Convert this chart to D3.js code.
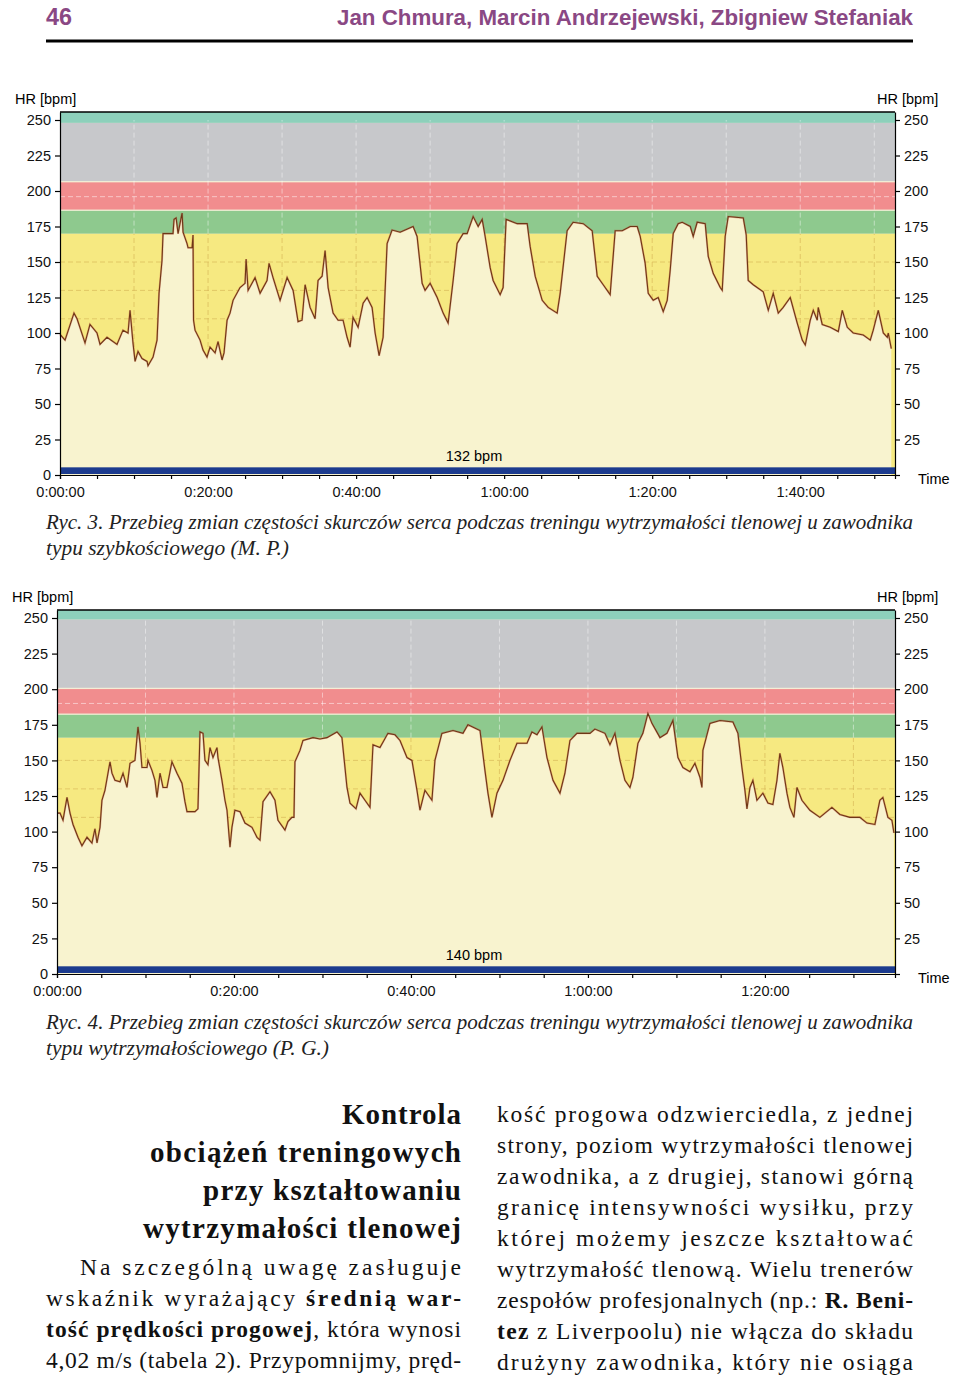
<!DOCTYPE html>
<html lang="pl">
<head>
<meta charset="utf-8">
<script src="https://d3js.org/d3.v7.min.js"></script>
<style>
  body { margin: 0; background: #fff; }
  svg text { font-family: "Liberation Sans", Arial, sans-serif; }
  svg text.serif { font-family: "Liberation Serif", "Times New Roman", serif; }
</style>
</head>
<body>
<svg id="page" width="960" height="1379"></svg>
<script>
// ---- data (time in minutes, HR in bpm) ----
var hrTicks = [0, 25, 50, 75, 100, 125, 150, 175, 200, 225, 250];

var hr1 = [[0,99],[0.68,95],[1.89,114],[2.30,110],[3.38,93],[4.05,106],[5.0,100],[5.41,92],[6.35,97],[7.70,92],[8.51,102],[9.19,100],[9.46,116],[9.86,93],[10.14,80],[10.54,87],[11.08,82],[11.76,80],[11.89,77],[12.57,83],[13.11,95],[13.38,128],[13.78,151],[13.92,170],[15.27,170],[15.41,180],[15.68,181],[15.95,170],[16.49,184.5],[16.62,171],[17.16,163],[17.30,160],[17.84,160],[17.97,169],[18.04,109],[18.24,102],[18.92,95],[19.32,88],[19.86,83],[20.27,90],[20.95,86],[21.35,94],[21.89,81],[22.16,86],[22.57,109],[22.97,114],[23.38,123],[24.32,132],[25.0,135],[25.14,152],[25.41,130],[26.35,139],[27.03,128],[27.97,137],[28.24,149],[28.78,139],[29.73,123],[30.68,139],[31.49,130],[32.16,108],[32.70,109],[33.11,134],[33.78,118],[34.46,110],[34.86,137],[35.41,140],[35.81,158],[36.22,132],[36.89,114],[37.57,109],[38.24,109],[38.78,97],[39.19,90],[39.59,111],[40.27,104],[40.95,121],[41.49,125],[42.16,118],[42.57,100],[43.11,84],[43.65,97],[44.19,163],[44.86,172.5],[45.95,171],[47.70,175],[48.24,168],[48.92,135],[49.32,130],[50.0,135],[50.95,125],[51.76,114],[52.43,107],[53.11,137],[53.65,163],[54.46,170],[55.0,170],[55.81,182],[56.49,175],[57.03,180],[57.43,168],[58.11,146],[58.51,137],[59.46,127],[59.86,132],[60.27,180],[61.76,177],[63.11,177],[63.51,161],[64.19,140],[65.14,123],[65.95,118],[67.16,114],[67.57,128],[68.51,172],[69.32,178],[70.68,177],[71.89,172],[72.57,140],[73.38,134],[74.32,127],[75.0,172],[75.95,172],[77.03,175],[77.97,175],[78.38,168],[79.05,149],[79.46,128],[80.14,123],[80.81,125],[81.49,115],[82.03,123],[82.43,144],[82.84,170],[83.51,177],[84.05,178],[85.14,175],[85.54,168],[86.08,178],[87.16,177],[87.57,154],[88.24,142],[89.19,132],[89.46,130],[89.86,168],[90.27,182],[92.30,181],[92.70,169],[92.97,137],[93.65,134],[95.0,129],[95.68,116],[96.35,128],[97.03,114],[97.70,118],[98.65,125],[99.59,107],[100.27,95],[100.68,91.5],[101.35,109],[101.76,116],[102.30,109],[102.43,118],[102.97,106],[104.05,104],[105.14,101],[105.68,116],[106.35,104],[107.16,100],[108.51,98.6],[109.46,95],[109.86,102],[110.54,116],[111.22,100],[111.76,97],[111.89,100],[112.30,89]];

var hr2 = [[0,113],[0.34,113],[0.68,108],[1.13,124],[1.47,113],[1.81,105],[2.37,96],[2.82,90],[3.39,96],[3.95,92],[4.29,102],[4.52,92],[4.86,103],[5.08,122],[5.42,129],[5.99,149],[6.21,141],[6.55,136],[7.12,135],[7.46,141],[7.91,131],[8.25,148],[8.81,150],[9.15,173.5],[9.38,162],[9.60,145],[10.17,145],[10.28,150],[10.73,143],[11.07,136],[11.30,124],[11.64,141],[11.98,131],[12.43,131],[12.99,149],[13.56,141],[14.12,134],[14.46,121],[14.69,114],[15.59,114],[15.93,116],[16.16,170],[16.50,169],[16.72,150],[17.06,147],[17.29,159],[17.63,152],[18.08,159],[18.19,152],[18.64,136],[18.98,122],[19.21,115],[19.55,89],[19.77,103],[20.11,115],[20.68,114],[21.24,106],[22.03,103],[22.60,96],[22.94,94],[23.28,121],[24.07,128],[24.63,122],[24.97,108],[25.76,101],[26.10,107],[26.55,110],[26.78,110],[26.89,149],[27.46,157],[27.80,164],[28.93,166],[29.72,165],[30.51,166],[31.64,170],[32.20,166],[32.77,131],[33.11,120],[33.79,116],[34.24,127],[34.80,122],[35.37,117],[35.71,161],[36.50,159],[37.40,169],[38.19,168],[38.76,164],[39.55,152],[40.11,150],[40.68,129],[41.02,115],[41.58,129],[42.37,122],[42.71,150],[43.50,169],[44.75,171],[45.88,169],[46.44,175],[47.80,171],[48.36,143],[48.70,127],[49.15,110],[49.72,127],[50.40,136],[51.19,150],[51.98,162],[53.11,162],[53.67,170],[54.24,168],[54.80,173.5],[55.37,152],[56.05,136],[56.84,127],[57.40,141],[57.97,164],[58.76,169],[60.23,169],[60.79,172],[61.92,169],[62.49,161],[63.05,169],[63.62,150],[64.18,136],[64.75,131],[65.08,138],[65.65,162],[66.21,169],[66.78,183],[67.23,176],[68.14,166],[68.93,169],[69.60,178],[70.17,152],[70.73,145],[71.53,142],[72.09,148],[72.66,138],[72.88,131],[72.99,157],[73.79,176],[74.92,178],[76.38,177],[76.95,169],[77.40,145],[77.74,129],[77.97,116],[78.31,131],[78.64,136],[79.10,122],[79.77,127],[80.34,120],[80.90,119],[81.36,136],[81.69,155],[82.03,145],[82.49,127],[82.82,117],[83.28,110],[83.62,131],[84.18,122],[85.08,115],[86.21,110],[87.57,117],[88.47,112],[89.60,110],[90.73,110],[91.53,106],[92.43,105],[92.99,122],[93.33,124],[93.90,110],[94.35,108],[94.58,99]];

// zone lower bounds (bpm): yellow, green, red, grey, teal
var zones1 = [0, 170, 186, 207, 248];
var zones2 = [0, 166, 182, 201, 249];
var grid1 = [110, 130, 150, 196];
var grid2 = [110, 130, 150, 190];
var duration1 = 112.8, duration2 = 94.7;
var avgLabel1 = "132 bpm", avgLabel2 = "140 bpm";

var zoneColors = ["#f6e981", "#8ec98e", "#f18d8e", "#c7c8cb", "#8dd0bb"];

var svg = d3.select("#page");

function fmtTime(m) {
  return Math.floor(m / 60) + ":" + d3.format("02")(m % 60) + ":00";
}

function drawChart(c) {
  var g = svg.append("g");
  var x = d3.scaleLinear().domain([0, c.duration]).range([c.left, c.right]);
  var y = d3.scaleLinear().domain([0, 250]).range([c.y0, c.y250]);
  var yTop = y.invert(c.top);
  var bounds = c.zones.concat([yTop]);
  var w = c.right - c.left;

  g.append("rect").attr("x", c.left).attr("y", c.top).attr("width", w)
    .attr("height", c.y0 - c.top).attr("fill", "#f3eed6");

  zoneColors.forEach(function (col, i) {
    var inset = (i === 2) ? 1.3 : 0;
    g.append("rect")
      .attr("x", c.left).attr("width", w)
      .attr("y", y(bounds[i + 1]) + inset)
      .attr("height", y(bounds[i]) - y(bounds[i + 1]) - 2 * inset)
      .attr("fill", col);
  });

  // dashed grid
  c.grid.forEach(function (v) {
    g.append("line").attr("x1", c.left).attr("x2", c.right)
      .attr("y1", y(v)).attr("y2", y(v))
      .attr("stroke", v < c.zones[1] ? "#d9b95a" : "#fff")
      .attr("stroke-opacity", v < c.zones[1] ? 0.7 : 0.5)
      .attr("stroke-dasharray", "5,3");
  });
  d3.range(10, c.duration, 10).forEach(function (m) {
    g.append("line").attr("x1", x(m)).attr("x2", x(m))
      .attr("y1", y(0)).attr("y2", y(c.zones[1]))
      .attr("stroke", "#d9b95a").attr("stroke-opacity", 0.7).attr("stroke-dasharray", "5,3");
    g.append("line").attr("x1", x(m)).attr("x2", x(m))
      .attr("y1", y(c.zones[1])).attr("y2", c.top + 8)
      .attr("stroke", "#fff").attr("stroke-opacity", 0.45).attr("stroke-dasharray", "5,3");
  });

  // area under the heart-rate curve
  g.append("path").datum(c.data)
    .attr("d", d3.area().x(function (d) { return x(d[0]); })
      .y0(y(0)).y1(function (d) { return y(d[1]); }))
    .attr("fill", "#f8f3cf");

  // blue strip
  g.append("rect").attr("x", c.left).attr("width", w)
    .attr("y", y(5.4)).attr("height", y(0.7) - y(5.4)).attr("fill", "#1c3b8e");

  g.append("path").datum(c.data)
    .attr("d", d3.line().x(function (d) { return x(d[0]); }).y(function (d) { return y(d[1]); }))
    .attr("fill", "none").attr("stroke", "#c0392b").attr("stroke-width", 2).attr("stroke-opacity", 0.35);
  g.append("path").datum(c.data)
    .attr("d", d3.line().x(function (d) { return x(d[0]); }).y(function (d) { return y(d[1]); }))
    .attr("fill", "none").attr("stroke", "#6e3616").attr("stroke-width", 1.1);

  // top border
  g.append("line").attr("x1", c.left).attr("x2", c.right)
    .attr("y1", c.top).attr("y2", c.top).attr("stroke", "#000").attr("stroke-width", 1.5);

  var yAx = y.copy().domain([0, yTop]).range([c.y0, c.top]);
  var font = "Liberation Sans, Arial, sans-serif";

  var left = g.append("g").attr("transform", "translate(" + c.left + ",0)")
    .call(d3.axisLeft(yAx).tickValues(hrTicks).tickSize(5).tickPadding(4).tickSizeOuter(0));
  var right = g.append("g").attr("transform", "translate(" + c.right + ",0)")
    .call(d3.axisRight(yAx).tickValues(hrTicks).tickSize(5).tickPadding(4).tickSizeOuter(0)
      .tickFormat(function (d) { return d === 0 ? "" : d; }));
  var bottom = g.append("g").attr("transform", "translate(0," + c.y0 + ")")
    .call(d3.axisBottom(x).tickValues(d3.range(0, c.duration, 5)).tickSize(4).tickSizeOuter(4).tickPadding(8)
      .tickFormat(function (d) { return d % 20 === 0 ? fmtTime(d) : ""; }));

  [left, right, bottom].forEach(function (a) {
    a.attr("font-size", 14.5).attr("font-family", font);
    a.selectAll("text").attr("fill", "#111");
    a.selectAll("path, line").attr("stroke", "#000").attr("stroke-width", 1.2);
  });

  g.append("text").attr("x", c.left - 45).attr("y", c.top - 8).attr("font-size", 14.5).text("HR [bpm]");
  g.append("text").attr("x", c.right - 18).attr("y", c.top - 8).attr("font-size", 14.5).text("HR [bpm]");
  g.append("text").attr("x", c.right + 23).attr("y", c.y0 + 9).attr("font-size", 14.5).text("Time");
  g.append("text").attr("x", 474).attr("y", c.y0 - 14).attr("text-anchor", "middle")
    .attr("font-size", 14.5).text(c.avg);
}

drawChart({ data: hr1, duration: duration1, zones: zones1, grid: grid1, avg: avgLabel1,
  left: 60, right: 895, y0: 475, y250: 120, top: 112 });
drawChart({ data: hr2, duration: duration2, zones: zones2, grid: grid2, avg: avgLabel2,
  left: 57, right: 895, y0: 974, y250: 618, top: 610 });

// ---- page header ----
var purple = "#8a4884";
svg.append("text").attr("x", 46).attr("y", 25).attr("font-size", 23).attr("font-weight", "bold")
  .attr("fill", purple).attr("font-family", "Liberation Sans Narrow, Liberation Sans, sans-serif")
  .attr("textLength", 26).attr("lengthAdjust", "spacingAndGlyphs").text("46");
svg.append("text").attr("x", 337).attr("y", 25).attr("font-size", 22).attr("font-weight", "bold")
  .attr("fill", purple).attr("font-family", "Liberation Sans Narrow, Liberation Sans, sans-serif")
  .attr("textLength", 576).attr("lengthAdjust", "spacingAndGlyphs")
  .text("Jan Chmura, Marcin Andrzejewski, Zbigniew Stefaniak");
svg.append("line").attr("x1", 46).attr("x2", 913).attr("y1", 41).attr("y2", 41)
  .attr("stroke", "#000").attr("stroke-width", 3);

// ---- captions ----
var captions = [
  ["Ryc. 3. Przebieg zmian częstości skurczów serca podczas treningu wytrzymałości tlenowej u zawodnika", 529, 867],
  ["typu szybkościowego (M. P.)", 555, 243],
  ["Ryc. 4. Przebieg zmian częstości skurczów serca podczas treningu wytrzymałości tlenowej u zawodnika", 1029, 867],
  ["typu wytrzymałościowego (P. G.)", 1055, 283]
];
captions.forEach(function (cp) {
  svg.append("text").attr("class", "serif").attr("x", 46).attr("y", cp[1])
    .attr("font-size", 20).attr("font-style", "italic").attr("fill", "#222")
    .attr("textLength", cp[2]).attr("lengthAdjust", "spacingAndGlyphs").text(cp[0]);
});

// ---- heading ----
var heading = [
  ["Kontrola", 1124, 119],
  ["obciążeń treningowych", 1162, 311],
  ["przy kształtowaniu", 1200, 258],
  ["wytrzymałości tlenowej", 1238, 318]
];
heading.forEach(function (h) {
  svg.append("text").attr("class", "serif").attr("x", 461).attr("y", h[1])
    .attr("text-anchor", "end").attr("font-size", 29).attr("font-weight", "bold").attr("fill", "#111")
    .attr("textLength", h[2]).attr("lengthAdjust", "spacing").text(h[0]);
});

// ---- justified body text (*...* = bold), spread by letter spacing ----
function justify(str, x0, x1, yb) {
  var t = svg.append("text").attr("class", "serif").attr("x", x0).attr("y", yb)
    .attr("font-size", 23.5).attr("fill", "#111")
    .attr("textLength", x1 - x0).attr("lengthAdjust", "spacing");
  str.split(/(\*[^*]*\*)/).filter(function (s) { return s.length; }).forEach(function (s) {
    var b = s[0] === "*";
    t.append("tspan").attr("font-weight", b ? "bold" : "normal").text(b ? s.slice(1, -1) : s);
  });
}

var leftLines = [
  ["Na szczególną uwagę zasługuje", 80, 1275],
  ["wskaźnik wyrażający *średnią war-*", 46, 1306],
  ["*tość prędkości progowej*, która wynosi", 46, 1337],
  ["4,02 m/s (tabela 2). Przypomnijmy, pręd-", 46, 1368]
];
leftLines.forEach(function (l) { justify(l[0], l[1], 461, l[2]); });

var rightLines = [
  "kość progowa odzwierciedla, z jednej",
  "strony, poziom wytrzymałości tlenowej",
  "zawodnika, a z drugiej, stanowi górną",
  "granicę intensywności wysiłku, przy",
  "której możemy jeszcze kształtować",
  "wytrzymałość tlenową. Wielu trenerów",
  "zespołów profesjonalnych (np.: *R. Beni-*",
  "*tez* z Liverpoolu) nie włącza do składu",
  "drużyny zawodnika, który nie osiąga"
];
rightLines.forEach(function (l, i) { justify(l, 497, 913, 1122 + i * 31); });
</script>
</body>
</html>
